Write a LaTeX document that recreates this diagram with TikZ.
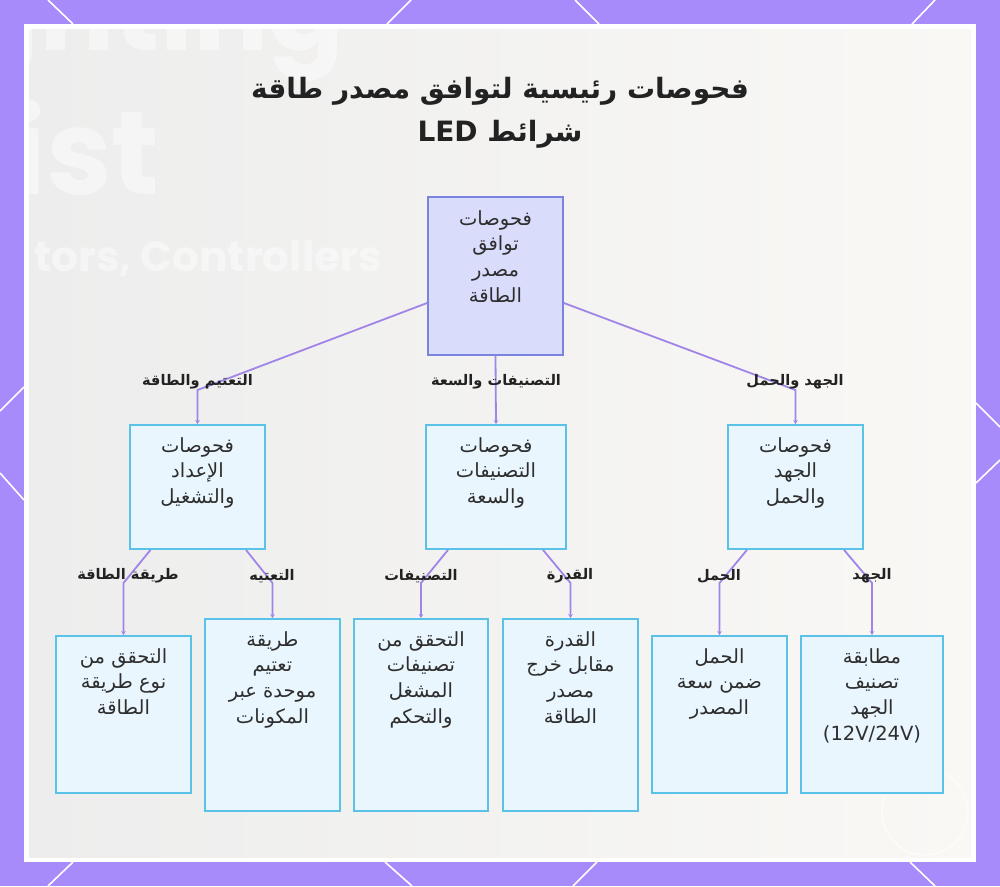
\documentclass[tikz,border=0pt]{standalone}
\usepackage{fontspec}
\setmainfont{DejaVu Sans}
\newfontfamily\arabicfont[Script=Arabic]{DejaVu Sans}
\newfontfamily\wmfont{Poppins}
\TeXXeTstate=1
\usetikzlibrary{arrows.meta,calc}
\newcommand\arl[1]{\beginR #1\endR}
\definecolor{bgpurple}{HTML}{A78BFA}
\definecolor{edgec}{HTML}{A084E8}
\definecolor{rootfill}{HTML}{D9DCFB}
\definecolor{rootline}{HTML}{7A84DE}
\definecolor{boxfill}{HTML}{EAF6FD}
\definecolor{boxline}{HTML}{5BC2E7}
\definecolor{txt}{HTML}{2E2E2E}
\definecolor{lbl}{HTML}{222222}
\definecolor{panelL}{HTML}{EDEDED}
\definecolor{panelR}{HTML}{F9F8F5}
\tikzset{
  rootbox/.style={draw=rootline, fill=rootfill, line width=1.8pt, inner sep=0pt, minimum width=135pt, minimum height=158pt},
  cbox/.style={draw=boxline, fill=boxfill, line width=1.8pt, inner sep=0pt},
  btxt/.style={anchor=north, align=center, font=\arabicfont\fontsize{19.5}{25.8}\selectfont, text=txt, inner sep=0pt},
  elabel/.style={font=\arabicfont\bfseries\fontsize{14.6}{16}\selectfont, text=lbl, inner sep=0pt},
  edge/.style={draw=edgec, line width=1.8pt, -{Stealth[length=4pt,width=4.5pt]}},
  deco/.style={draw=white, line width=1.6pt},
  wm/.style={text=white, opacity=0.45, inner sep=0pt, font=\wmfont\bfseries}
}
\begin{document}
\begin{tikzpicture}[x=1pt,y=-1pt]
\useasboundingbox (0,0) rectangle (1000,886);
\fill[bgpurple] (0,0) rectangle (1000,886);
% decorative white lines on the purple frame
\draw[deco] (48,0) -- (73,24);
\draw[deco] (411,0) -- (387,24);
\draw[deco] (575,0) -- (599,24);
\draw[deco] (935,0) -- (912,24);
\draw[deco] (48,886) -- (73,862);
\draw[deco] (412,886) -- (385,862);
\draw[deco] (573,886) -- (597,862);
\draw[deco] (935,886) -- (910,862);
\draw[deco] (0,411) -- (24,387);
\draw[deco] (0,473) -- (24,500);
\draw[deco] (976,403) -- (1000,427);
\draw[deco] (976,483) -- (1000,460);
% panel
\fill[white] (24,24) rectangle (976,862);
\shade[left color=panelL, right color=panelR] (29,29) rectangle (971,857);
% faint background watermark
\begin{scope}
\clip (29,29) rectangle (971,857);
\node[wm, anchor=base east, font=\wmfont\bfseries\fontsize{112}{112}\selectfont] (wm1) at (345,50) {Lighting};
\node[wm, anchor=base east, font=\wmfont\bfseries\fontsize{118}{118}\selectfont] (wm2) at (160,194) {ist};
\node[wm, anchor=base east, font=\wmfont\bfseries\fontsize{42}{42}\selectfont] (wm3) at (382,271) {tors, Controllers};
\draw[white, line width=1pt, opacity=0.8] (925,812) circle (43pt);
\end{scope}
% title
\node[align=center, text=lbl, inner sep=0pt, font=\arabicfont\bfseries\fontsize{28}{43}\selectfont] (title) at (500,113)
  {\arl{فحوصات رئيسية لتوافق مصدر طاقة}\\\arl{شرائط \beginL LED\endL}};
% boxes
\node[rootbox] (root) at (495.5,276) {};
\node[cbox, minimum width=135pt, minimum height=124pt] (c1) at (197.5,487) {};
\node[cbox, minimum width=140pt, minimum height=124pt] (c2) at (496,487) {};
\node[cbox, minimum width=135pt, minimum height=124pt] (c3) at (795.5,487) {};
\node[cbox, minimum width=135pt, minimum height=157pt] (l1) at (123.5,714.5) {};
\node[cbox, minimum width=135pt, minimum height=192pt] (l2) at (272.5,715) {};
\node[cbox, minimum width=134pt, minimum height=192pt] (l3) at (421,715) {};
\node[cbox, minimum width=135pt, minimum height=192pt] (l4) at (570.5,715) {};
\node[cbox, minimum width=135pt, minimum height=157pt] (l5) at (719.5,714.5) {};
\node[cbox, minimum width=142pt, minimum height=157pt] (l6) at (872,714.5) {};
% box texts
\node[btxt] (troot) at ([yshift=-14pt]root.north) {\arl{فحوصات}\\\arl{توافق}\\\arl{مصدر}\\\arl{الطاقة}};
\node[btxt] (tc1) at ([yshift=-13pt]c1.north) {\arl{فحوصات}\\\arl{الإعداد}\\\arl{والتشغيل}};
\node[btxt] (tc2) at ([yshift=-13pt]c2.north) {\arl{فحوصات}\\\arl{التصنيفات}\\\arl{والسعة}};
\node[btxt] (tc3) at ([yshift=-13pt]c3.north) {\arl{فحوصات}\\\arl{الجهد}\\\arl{والحمل}};
\node[btxt] (tl1) at ([yshift=-13pt]l1.north) {\arl{التحقق من}\\\arl{نوع طريقة}\\\arl{الطاقة}};
\node[btxt] (tl2) at ([yshift=-13pt]l2.north) {\arl{طريقة}\\\arl{تعتيم}\\\arl{موحدة عبر}\\\arl{المكونات}};
\node[btxt] (tl3) at ([yshift=-13pt]l3.north) {\arl{التحقق من}\\\arl{تصنيفات}\\\arl{المشغل}\\\arl{والتحكم}};
\node[btxt] (tl4) at ([yshift=-13pt]l4.north) {\arl{القدرة}\\\arl{مقابل خرج}\\\arl{مصدر}\\\arl{الطاقة}};
\node[btxt] (tl5) at ([yshift=-13pt]l5.north) {\arl{الحمل}\\\arl{ضمن سعة}\\\arl{المصدر}};
\node[btxt] (tl6) at ([yshift=-13pt]l6.north) {\arl{مطابقة}\\\arl{تصنيف}\\\arl{الجهد}\\(12V/24V)};
% bends
\coordinate (k1) at (197.5,390);
\coordinate (k3) at (795.5,390);
\coordinate (k11) at (123.5,583);
\coordinate (k12) at (272.5,583);
\coordinate (k21) at (421,583);
\coordinate (k22) at (570.5,583);
\coordinate (k31) at (719.5,583);
\coordinate (k32) at (872,583);
% connectors
\draw[edge] ([yshift=-27pt]root.west) -- (k1) -- (c1.north);
\draw[edge] (root.south) -- (c2.north);
\draw[edge] ([yshift=-27pt]root.east) -- (k3) -- (c3.north);
\draw[edge] ([xshift=-47pt]c1.south) -- (k11) -- (l1.north);
\draw[edge] ([xshift=48.5pt]c1.south) -- (k12) -- (l2.north);
\draw[edge] ([xshift=-48pt]c2.south) -- (k21) -- (l3.north);
\draw[edge] ([xshift=47pt]c2.south) -- (k22) -- (l4.north);
\draw[edge] ([xshift=-48.5pt]c3.south) -- (k31) -- (l5.north);
\draw[edge] ([xshift=48.5pt]c3.south) -- (k32) -- (l6.north);
% edge labels
\node[elabel] (e1) at (197.5,382) {\arl{التعتيم والطاقة}};
\node[elabel] (e2) at (496,382) {\arl{التصنيفات والسعة}};
\node[elabel] (e3) at (795,382) {\arl{الجهد والحمل}};
\node[elabel] (e11) at (128,576) {\arl{طريقة الطاقة}};
\node[elabel] (e12) at (272,576) {\arl{التعتيه}};
\node[elabel] (e21) at (421,576) {\arl{التصنيفات}};
\node[elabel] (e22) at (570,576) {\arl{القدرة}};
\node[elabel] (e31) at (719,576) {\arl{الحمل}};
\node[elabel] (e32) at (872,576) {\arl{الجهد}};
\end{tikzpicture}
\end{document}
